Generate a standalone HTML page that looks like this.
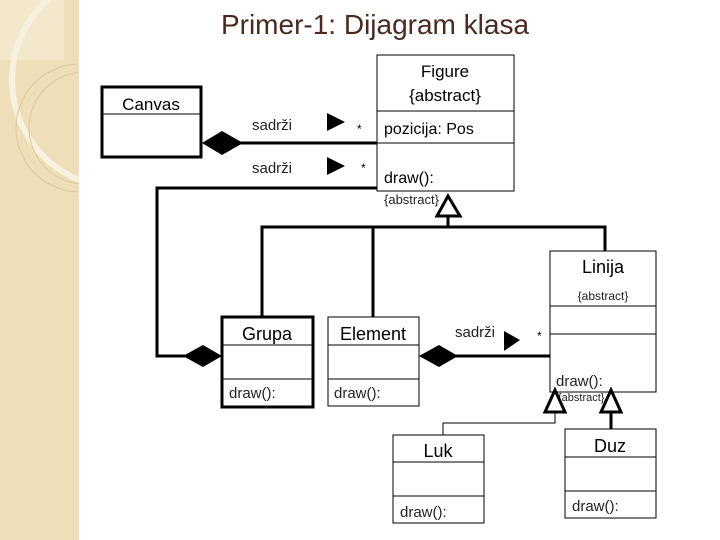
<!DOCTYPE html>
<html><head><meta charset="utf-8"><style>
html,body{margin:0;padding:0;background:#fff}
svg{display:block}
text{font-family:"Liberation Sans",sans-serif;fill:#000}
</style></head><body>
<svg width="720" height="540" viewBox="0 0 720 540" xmlns="http://www.w3.org/2000/svg">
<defs><clipPath id="strip"><rect x="0" y="0" width="79" height="540"/></clipPath></defs>
<rect x="0" y="0" width="79" height="540" fill="#efdfb8"/>
<g clip-path="url(#strip)">
<rect x="0" y="0" width="64" height="60" fill="#f3e8cc"/>
<circle cx="120" cy="80" r="108" fill="none" stroke="#f8f1e0" stroke-width="6"/>
<circle cx="80" cy="128" r="64" fill="none" stroke="#dcc89a" stroke-width="1"/>
<circle cx="85" cy="128" r="56" fill="none" stroke="#dcc89a" stroke-width="1"/>
</g>
<text x="375" y="34" font-size="28" text-anchor="middle" style="fill:#4a2a20">Primer-1: Dijagram klasa</text>

<rect x="102" y="87" width="99" height="70" fill="#fff" stroke="#000" stroke-width="3"/>
<line x1="102" y1="114" x2="201" y2="114" stroke="#000" stroke-width="1"/>
<text x="151" y="110" font-size="17" text-anchor="middle">Canvas</text>

<rect x="377" y="55" width="137" height="136" fill="#fff" stroke="#000" stroke-width="1"/>
<line x1="377" y1="111" x2="514" y2="111" stroke="#000"/>
<line x1="377" y1="143" x2="514" y2="143" stroke="#000"/>
<text x="445" y="77" font-size="17" text-anchor="middle">Figure</text>
<text x="445" y="101" font-size="17" text-anchor="middle">{abstract}</text>
<text x="384" y="134" font-size="16">pozicija: Pos</text>
<text x="384" y="183" font-size="16">draw():</text>
<text x="384" y="204" font-size="13" style="fill:#222">{abstract}</text>

<line x1="240" y1="143" x2="377" y2="143" stroke="#000" stroke-width="3"/>
<polygon points="202,143 222,131 243,143 222,155" fill="#000"/>
<text x="252" y="130" font-size="15" style="fill:#222">sadrži</text>
<polygon points="327,113 345,122 327,131" fill="#000"/>
<text x="357" y="133" font-size="12">*</text>
<text x="252" y="173" font-size="15" style="fill:#222">sadrži</text>
<polygon points="327,157 345,166 327,175" fill="#000"/>
<text x="361" y="172" font-size="12">*</text>

<polyline points="377,188 157,188 157,356 185,356" fill="none" stroke="#000" stroke-width="3"/>
<polygon points="183,356 203,345 222,356 203,367" fill="#000"/>

<polygon points="448,196 460,216 437,216" fill="#fff" stroke="#000" stroke-width="3"/>
<line x1="448" y1="216" x2="448" y2="228" stroke="#000" stroke-width="3"/>
<polyline points="262,317 262,227 605,227 605,251" fill="none" stroke="#000" stroke-width="3"/>
<line x1="373" y1="227" x2="373" y2="317" stroke="#000" stroke-width="3"/>

<rect x="222" y="317" width="91" height="90" fill="#fff" stroke="#000" stroke-width="3"/>
<line x1="222" y1="345" x2="313" y2="345" stroke="#000"/>
<line x1="222" y1="379" x2="313" y2="379" stroke="#000"/>
<text x="267" y="340" font-size="18" text-anchor="middle">Grupa</text>
<text x="229" y="398" font-size="15" style="fill:#222">draw():</text>

<rect x="328" y="317" width="91" height="89" fill="#fff" stroke="#000" stroke-width="1"/>
<line x1="328" y1="345" x2="419" y2="345" stroke="#000"/>
<line x1="328" y1="379" x2="419" y2="379" stroke="#000"/>
<text x="373" y="340" font-size="18" text-anchor="middle">Element</text>
<text x="334" y="398" font-size="15" style="fill:#222">draw():</text>

<line x1="455" y1="356" x2="550" y2="356" stroke="#000" stroke-width="3"/>
<polygon points="419,356 439,345 458,356 439,367" fill="#000"/>
<text x="455" y="337" font-size="15" style="fill:#222">sadrži</text>
<polygon points="504,331 520,340 504,351" fill="#000"/>
<text x="537" y="340" font-size="12">*</text>

<rect x="550" y="251" width="106" height="141" fill="#fff" stroke="#000" stroke-width="1"/>
<line x1="550" y1="306" x2="656" y2="306" stroke="#000"/>
<line x1="550" y1="334" x2="656" y2="334" stroke="#000"/>
<text x="603" y="273" font-size="18" text-anchor="middle">Linija</text>
<text x="603" y="300" font-size="12" text-anchor="middle" style="fill:#222">{abstract}</text>
<text x="556" y="386" font-size="15" style="fill:#222">draw():</text>
<text x="558" y="401" font-size="11" style="fill:#222">{abstract}</text>

<polygon points="555,390 565,412 545,412" fill="none" stroke="#000" stroke-width="3"/>
<polyline points="555,412 555,423 443,423 443,435" fill="none" stroke="#000" stroke-width="1"/>
<polygon points="611,390 621,412 601,412" fill="none" stroke="#000" stroke-width="3"/>
<line x1="611" y1="412" x2="611" y2="429" stroke="#000" stroke-width="3"/>

<rect x="393" y="435" width="91" height="88" fill="#fff" stroke="#000" stroke-width="1"/>
<line x1="393" y1="462" x2="484" y2="462" stroke="#000"/>
<line x1="393" y1="496" x2="484" y2="496" stroke="#000"/>
<text x="438" y="457" font-size="18" text-anchor="middle">Luk</text>
<text x="400" y="517" font-size="15" style="fill:#222">draw():</text>

<rect x="565" y="429" width="91" height="89" fill="#fff" stroke="#000" stroke-width="1"/>
<line x1="565" y1="457" x2="656" y2="457" stroke="#000"/>
<line x1="565" y1="491" x2="656" y2="491" stroke="#000"/>
<text x="610" y="452" font-size="18" text-anchor="middle">Duz</text>
<text x="572" y="511" font-size="15" style="fill:#222">draw():</text>
</svg>
</body></html>
